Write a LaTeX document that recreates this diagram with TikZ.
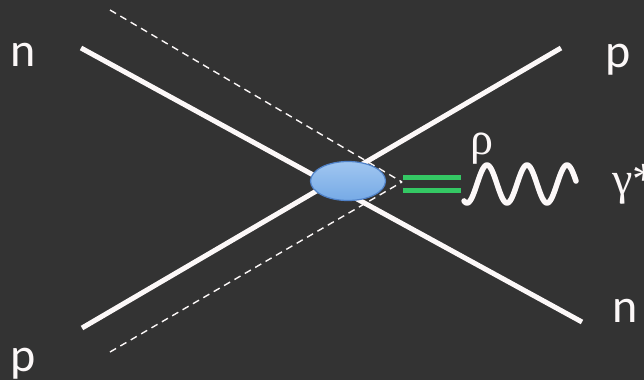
\documentclass[tikz,border=0pt]{standalone}
\usepackage{fontspec}
\usepackage{tikz}
\usetikzlibrary{
	arrows.meta,
	calc,
	shapes.geometric,
	positioning
}
\setmainfont{Carlito}
\newfontfamily\greekfont{Liberation Serif}
\definecolor{SlideBg}{RGB}{51,51,51}
\definecolor{LineWhite}{RGB}{252,248,248}
\definecolor{BlobTop}{RGB}{160,198,240}
\definecolor{BlobBot}{RGB}{118,170,230}
\definecolor{BlobEdge}{RGB}{80,130,200}
\definecolor{MesonGreen}{RGB}{52,200,100}
\tikzset{
	fermion/.style={line width=5pt, LineWhite},
	spectator/.style={line width=1.4pt, LineWhite, dash pattern=on 7pt off 5pt},
	lbl/.style={inner sep=0pt, anchor=base west, text=LineWhite, font=\fontsize{48}{50}\selectfont},
	glbl/.style={inner sep=0pt, anchor=base west, text=LineWhite, font=\fontsize{46}{48}\selectfont\greekfont}
}

\begin{document}
\begin{tikzpicture}[x=1pt, y=-1pt]
		\fill[SlideBg] (0,0) rectangle (644,380);
		\useasboundingbox (0,0) rectangle (644,380);
		% Endpunkte
		\coordinate (nIn) at (81,48);
		\coordinate (nOut) at (582,322);
		\coordinate (pIn) at (82,328);
		\coordinate (pOut) at (561,48);
		\coordinate (dUp) at (110,10);
		\coordinate (dLo) at (110,352);
		\coordinate (dEnd) at (402,182);
		% Linien
		\draw[fermion] (nIn) -- (nOut);
		\draw[fermion] (pIn) -- (pOut);
		\draw[spectator] (dUp) -- (dEnd);
		\draw[spectator] (dLo) -- (dEnd);
		% Vertex
		\node[ellipse, minimum width=75pt, minimum height=39pt, draw=BlobEdge, line width=1.2pt,
			top color=BlobTop, bottom color=BlobBot] (blob) at (348,181) {};
		% rho-Meson
		\coordinate (rhoA) at (403,177);
		\coordinate (rhoB) at (461,177);
		\coordinate (rhoC) at (403,190);
		\coordinate (rhoD) at (461,190);
		\draw[MesonGreen, line width=5pt] (rhoA) -- (rhoB);
		\draw[MesonGreen, line width=5pt] (rhoC) -- (rhoD);
		% Photon
		\draw[LineWhite, line width=5.5pt, line cap=round, line join=round, domain=464:576, samples=120, smooth, variable=\x]
			plot ({\x}, {184 + 19*cos(9*(\x-467))});
		% Beschriftungen
		\node[lbl] (nLeft) at (10,66) {n};
		\node[lbl] (pRight) at (605,67) {p};
		\node[lbl] (nRight) at (612,322) {n};
		\node[lbl] (pLeft) at (10,371) {p};
		\node[glbl] (rho) at (470,154) {ρ};
		\node[glbl] (gam) at (612,194) {γ*};
	\end{tikzpicture}
\end{document}
